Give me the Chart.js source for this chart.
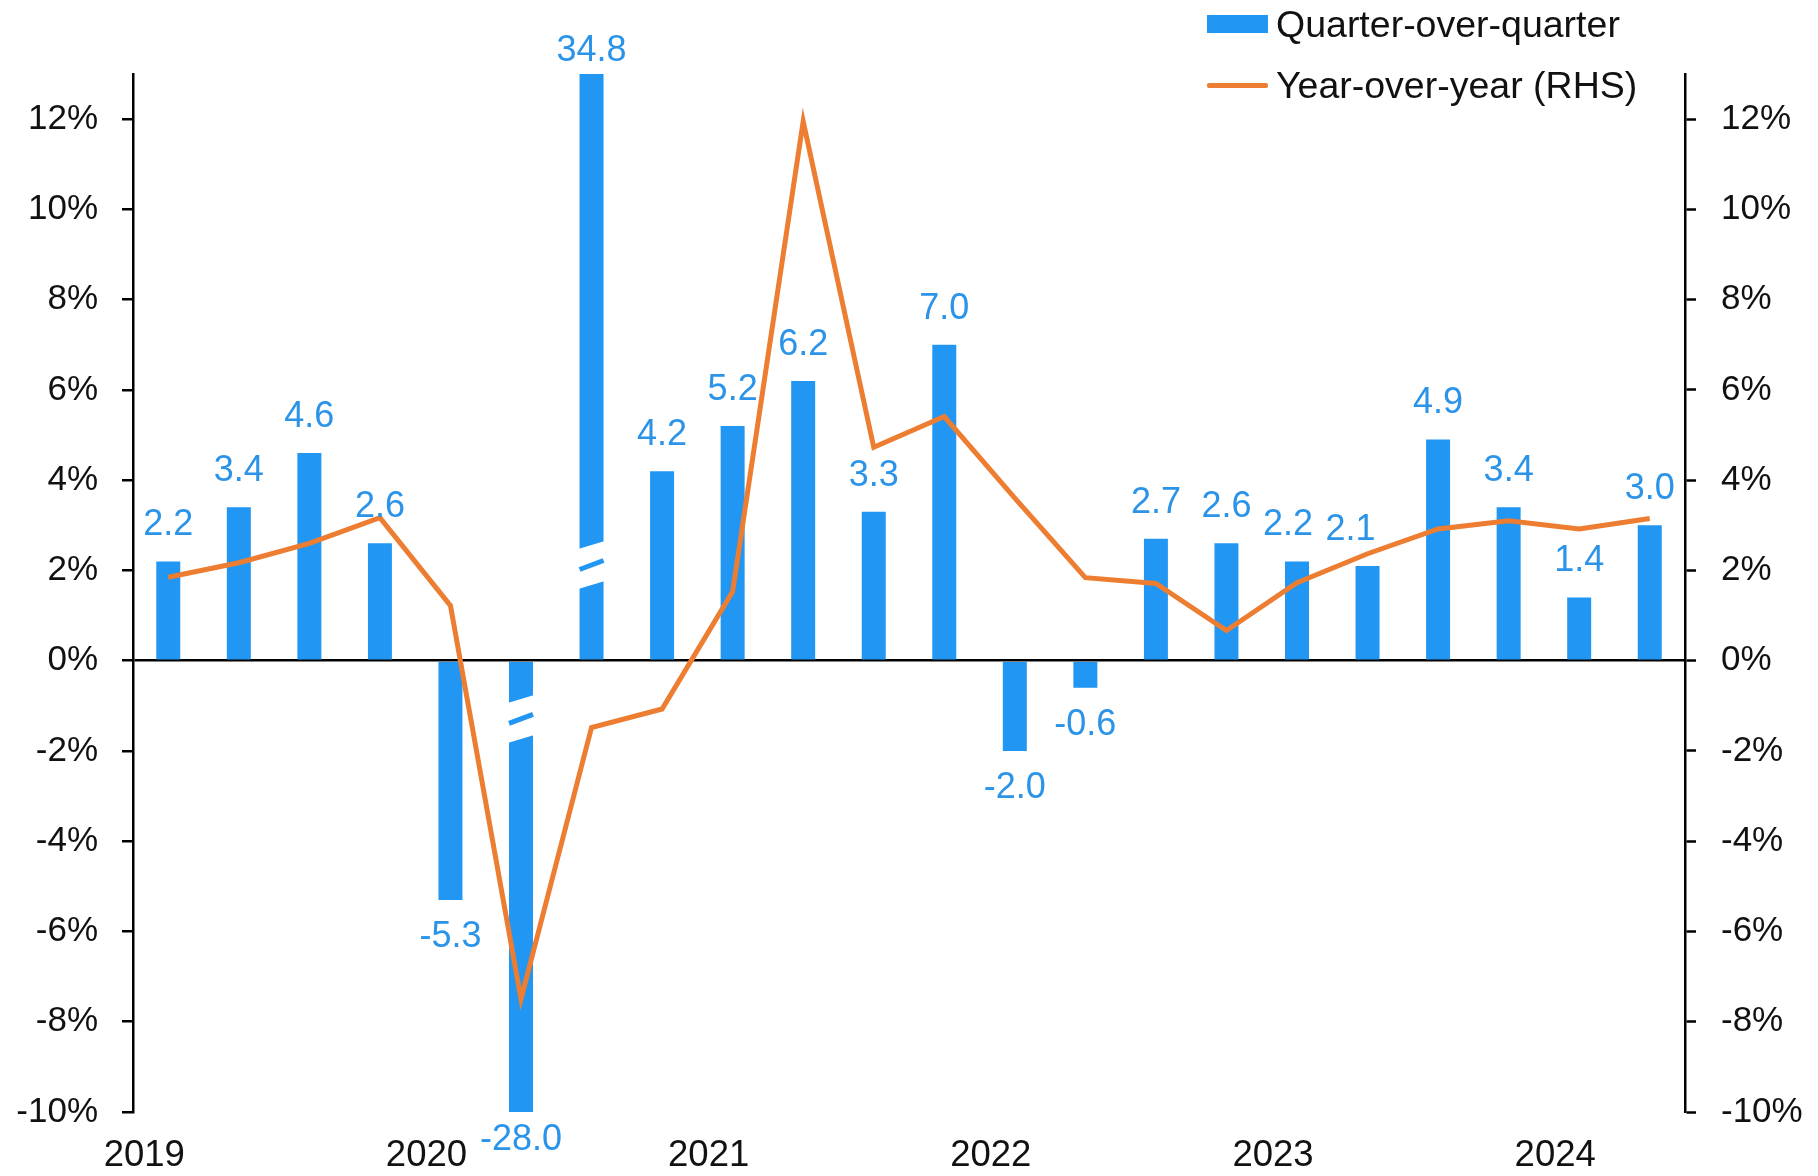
<!DOCTYPE html>
<html>
<head>
<meta charset="utf-8">
<script src="https://cdn.jsdelivr.net/npm/chart.js@4.4.1/dist/chart.umd.min.js"></script>
<style>
  html, body { margin: 0; padding: 0; background: #fff; }
  #wrap { position: relative; width: 1818px; height: 1176px; font-family: "Liberation Sans", Arial, sans-serif; }
  .leg { position: absolute; left: 1207px; height: 44px; line-height: 44px; font-size: 37.5px; color: #111; white-space: nowrap; }
  .leg span.sw { position: absolute; left: 0; }
  .leg span.tx { position: absolute; left: 69px; top: 0; }
</style>
</head>
<body>
<div id="wrap">
  <canvas id="chart" width="1818" height="1176"></canvas>
  <div class="leg" style="top:2px;"><span class="sw" style="top:13px;width:61px;height:18px;background:#2196f3;"></span><span class="tx">Quarter-over-quarter</span></div>
  <div class="leg" style="top:63px;"><span class="sw" style="top:20px;width:61px;height:5px;background:#ed7d31;border-radius:2px;"></span><span class="tx">Year-over-year (RHS)</span></div>
</div>
<script>
// quarters 2019Q1 .. 2024Q2
const quarters = ['2019Q1', '2019Q2', '2019Q3', '2019Q4', '2020Q1', '2020Q2', '2020Q3', '2020Q4',
    '2021Q1', '2021Q2', '2021Q3', '2021Q4', '2022Q1', '2022Q2', '2022Q3', '2022Q4',
    '2023Q1', '2023Q2', '2023Q3', '2023Q4', '2024Q1', '2024Q2'];
const years = ['2019', '2020', '2021', '2022', '2023', '2024'];

// quarter-over-quarter, % (bars, LHS)
const qoq = [2.2, 3.4, 4.6, 2.6, -5.3, -28.0, 34.8, 4.2, 5.2, 6.2, 3.3, 7.0,
    -2.0, -0.6, 2.7, 2.6, 2.2, 2.1, 4.9, 3.4, 1.4, 3.0];
// year-over-year, % (line, RHS)
const yoy = [1.85, 2.17, 2.6, 3.17, 1.22, -7.5, -1.48, -1.07, 1.53, 11.95, 4.73, 5.41,
    3.6, 1.84, 1.71, 0.67, 1.73, 2.37, 2.92, 3.1, 2.92, 3.15];

const BLUE = '#2196f3';
const ORANGE = '#ed7d31';
const FONT = '"Liberation Sans", Arial, sans-serif';

// value labels above / below the bars
const barLabels = {
    id: 'barLabels',
    afterDatasetsDraw(chart) {
        const ctx = chart.ctx;
        const area = chart.chartArea;
        const nudge = { 16: -9, 17: -17 };
        ctx.save();
        ctx.font = '36px ' + FONT;
        ctx.fillStyle = '#2b94e8';
        ctx.textAlign = 'center';
        ctx.textBaseline = 'middle';
        chart.getDatasetMeta(0).data.forEach((bar, i) => {
            const v = qoq[i];
            const x = bar.x + (nudge[i] || 0);
            let y;
            if (v >= 0) {
                y = bar.y < area.top ? area.top - 23 : bar.y - 36;
            } else {
                y = bar.y > area.bottom ? area.bottom + 28 : bar.y + 37;
            }
            ctx.fillText(v.toFixed(1), x, y);
        });
        ctx.restore();
    }
};

// axis-break marks on the bars that run off the scale
const barBreaks = {
    id: 'barBreaks',
    afterDatasetDraw(chart, args) {
        if (args.index !== 0) return;
        const ctx = chart.ctx;
        const ys = chart.scales.y;
        const area = chart.chartArea;
        ctx.save();
        ctx.beginPath();
        ctx.rect(area.left, area.top, area.right - area.left, area.bottom - area.top);
        ctx.clip();
        chart.getDatasetMeta(0).data.forEach((bar, i) => {
            const v = qoq[i];
            if (v <= ys.max && v >= ys.min) return;
            const cy = ys.getPixelForValue(v > 0 ? 2.12 : -1.29);
            const half = bar.width / 2 + 3;
            const x0 = bar.x - half, x1 = bar.x + half;
            const tilt = 0.3 * half;
            ctx.fillStyle = '#ffffff';
            ctx.beginPath();
            ctx.moveTo(x0, cy - 20 + tilt);
            ctx.lineTo(x1, cy - 20 - tilt);
            ctx.lineTo(x1, cy + 20 - tilt);
            ctx.lineTo(x0, cy + 20 + tilt);
            ctx.closePath();
            ctx.fill();
            ctx.strokeStyle = BLUE;
            ctx.lineWidth = 5;
            ctx.beginPath();
            ctx.moveTo(bar.x - bar.width / 2, cy + tilt);
            ctx.lineTo(bar.x + bar.width / 2, cy - tilt);
            ctx.stroke();
        });
        ctx.restore();
    }
};

new Chart(document.getElementById('chart').getContext('2d'), {
    type: 'bar',
    data: {
        labels: quarters,
        datasets: [{
            label: 'Quarter-over-quarter',
            data: qoq,
            backgroundColor: BLUE,
            borderWidth: 0,
            barPercentage: 0.34,
            categoryPercentage: 1,
            yAxisID: 'y',
            order: 1
        }, {
            type: 'line',
            label: 'Year-over-year (RHS)',
            data: yoy,
            borderColor: ORANGE,
            borderWidth: 5,
            pointRadius: 0,
            tension: 0,
            fill: false,
            yAxisID: 'y1',
            order: 0
        }]
    },
    options: {
        responsive: false,
        animation: false,
        layout: { padding: { top: 74, left: 0, right: 0, bottom: 0 } },
        plugins: {
            legend: { display: false },
            tooltip: { enabled: false }
        },
        scales: {
            x: {
                offset: true,
                grid: { display: false, drawTicks: false },
                border: { display: false },
                ticks: {
                    autoSkip: false,
                    maxRotation: 0,
                    padding: 22,
                    labelOffset: -24,
                    color: '#111',
                    font: { family: FONT, size: 36.5 },
                    callback: (val, i) => (i % 4 === 0 ? years[i / 4] : '')
                },
                afterFit: (s) => { s.height = 64; }
            },
            y: {
                position: 'left',
                min: -10,
                max: 13,
                border: { display: true, color: '#000', width: 2.5 },
                grid: {
                    color: (c) => (c.tick && c.tick.value === 0 ? '#000' : 'rgba(0,0,0,0)'),
                    lineWidth: 2.5,
                    tickColor: '#000',
                    tickWidth: 2.5,
                    tickLength: 11
                },
                ticks: {
                    stepSize: 2,
                    includeBounds: false,
                    padding: 24,
                    color: '#111',
                    font: { family: FONT, size: 35 },
                    callback: (v) => v + '%'
                },
                afterFit: (s) => { s.width = 133; }
            },
            y1: {
                position: 'right',
                min: -10,
                max: 13,
                border: { display: true, color: '#000', width: 2.5 },
                grid: {
                    drawOnChartArea: false,
                    tickColor: '#000',
                    tickWidth: 2.5,
                    tickLength: 11
                },
                ticks: {
                    stepSize: 2,
                    includeBounds: false,
                    padding: 25,
                    color: '#111',
                    font: { family: FONT, size: 35 },
                    callback: (v) => v + '%'
                },
                afterFit: (s) => { s.width = 133; }
            }
        }
    },
    plugins: [barBreaks, barLabels]
});
</script>
</body>
</html>
